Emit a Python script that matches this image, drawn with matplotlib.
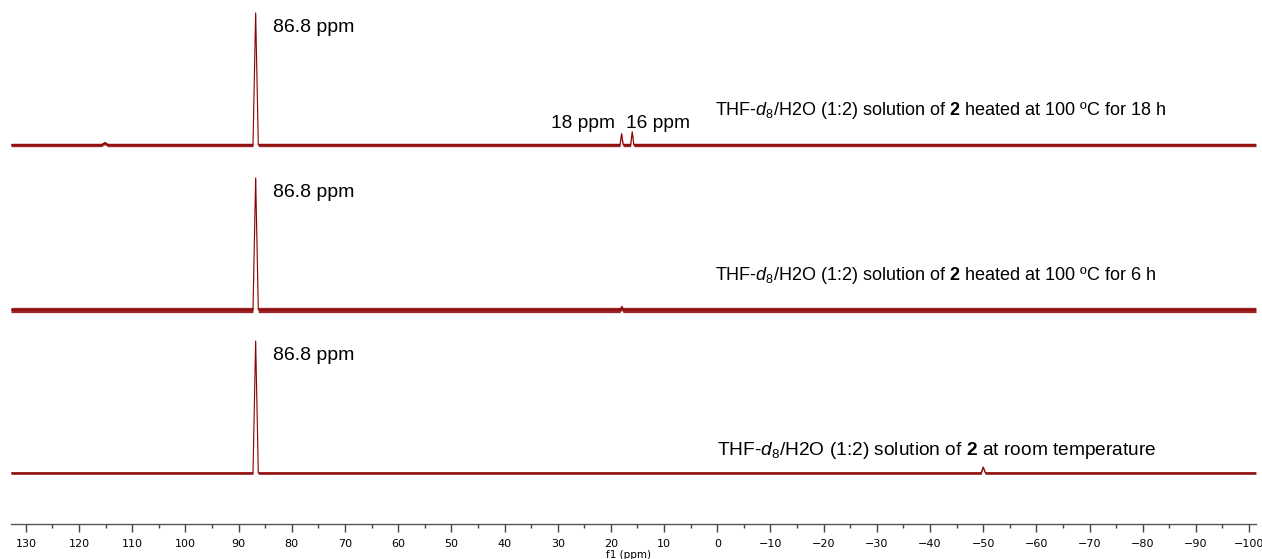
import matplotlib
matplotlib.use('Agg')
import matplotlib.pyplot as plt
import numpy as np

plt.rcParams['font.family'] = ['Liberation Sans', 'DejaVu Sans']
plt.rcParams['mathtext.fontset'] = 'custom'
plt.rcParams['mathtext.rm'] = 'Liberation Sans'
plt.rcParams['mathtext.it'] = 'Liberation Sans:italic'
plt.rcParams['mathtext.bf'] = 'Liberation Sans:bold'

# spectra: chemical shift (ppm) and relative intensity (main peak = 1)
top_ppm = [132.8, 115.8, 115.2, 114.6, 87.3, 86.8, 86.3, 18.3, 18.0, 17.7, 16.3, 16.0, 15.7, -101.3]
top_int = [0, 0, 0.015, 0, 0, 1.0, 0, 0, 0.085, 0, 0, 0.10, 0, 0]

mid_ppm = [132.8, 87.3, 86.8, 86.3, 18.3, 18.0, 17.7, -101.3]
mid_int = [0, 0, 1.0, 0, 0, 0.02, 0, 0]

bot_ppm = [132.8, 87.3, 86.8, 86.3, -49.6, -50.0, -50.4, -101.3]
bot_int = [0, 0, 1.0, 0, 0, 0.045, 0, 0]

# baseline noise half-height of each trace (relative units)
noise_amp = [0.013, 0.02, 0.01]
offsets = [2.485, 1.235, 0.0]

labels = [
    r'THF-$\mathit{d}_{\mathrm{8}}$/H2O (1:2) solution of $\mathbf{2}$ heated at 100 ºC for 18 h',
    r'THF-$\mathit{d}_{\mathrm{8}}$/H2O (1:2) solution of $\mathbf{2}$ heated at 100 ºC for 6 h',
    r'THF-$\mathit{d}_{\mathrm{8}}$/H2O (1:2) solution of $\mathbf{2}$ at room temperature',
]
label_dy = [0.227, 0.227, 0.136]
label_size = [13, 13, 13.8]
label_x = [0.5, 0.5, 0.1]
peak_label = '86.8 ppm'

color = '#8b0000'

fig = plt.figure(figsize=(12.62, 5.59), dpi=100)
ax = fig.add_axes([11 / 1262, 35 / 559, 1245 / 1262, 524 / 559])

traces = [(top_ppm, top_int), (mid_ppm, mid_int), (bot_ppm, bot_int)]
for i, ((ppm, inten), off, amp) in enumerate(zip(traces, offsets, noise_amp)):
    ppm = np.array(ppm)
    y = np.array(inten) + off
    ax.fill_between(ppm, y - amp, y + amp, color=color, lw=0, alpha=0.85)
    ax.plot(ppm, y, color=color, lw=0.8)
    ax.text(83.6, off + 0.856, peak_label, fontsize=14, va='baseline', ha='left')
    ax.text(label_x[i], off + label_dy[i], labels[i], fontsize=label_size[i],
            va='baseline', ha='left')

ax.text(31.35, offsets[0] + 0.129, '18 ppm', fontsize=13.8, va='baseline', ha='left')
ax.text(17.1, offsets[0] + 0.129, '16 ppm', fontsize=13.8, va='baseline', ha='left')

ax.set_xlim(132.8, -101.3)
ax.set_ylim(-0.386, 3.583)

for s in ['top', 'left', 'right']:
    ax.spines[s].set_visible(False)
ax.spines['bottom'].set_color('#555555')
ax.spines['bottom'].set_linewidth(1.0)
ax.set_yticks([])
ax.set_xticks(np.arange(130, -101, -10))
ax.set_xticks(np.arange(125, -101, -10), minor=True)
ax.set_xticklabels([('%d' % v).replace('-', '\u2212') for v in np.arange(130, -101, -10)],
                   fontfamily='DejaVu Sans', fontsize=8)
ax.tick_params(axis='x', which='major', length=6, width=1, color='#444444', pad=5)
ax.tick_params(axis='x', which='minor', length=3, width=1, color='#444444')
ax.set_xlabel('f1 (ppm)', fontfamily='DejaVu Sans', fontsize=7.5)
ax.xaxis.set_label_coords(0.4956, -0.05)

fig.savefig('out.png', dpi=100)
